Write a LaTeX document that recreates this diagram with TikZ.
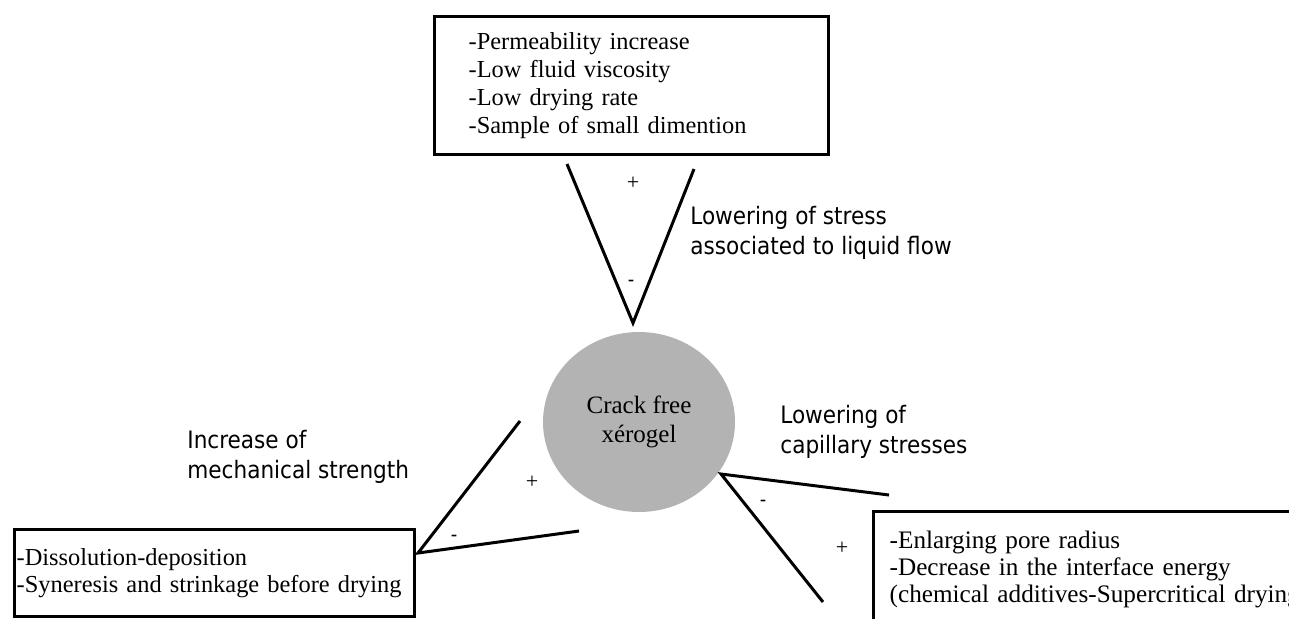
\documentclass[tikz,border=0pt]{standalone}
\usepackage{fontspec}
\setmainfont{Liberation Serif}
\newfontfamily\labelfont{DejaVu Sans Condensed}
\usetikzlibrary{shapes.geometric}
\definecolor{gelgray}{RGB}{179,179,179}

\begin{document}
\begin{tikzpicture}[x=0.5pt, y=-0.5pt,
    factorbox/.style={draw, line width=1.7pt, anchor=north west, align=left,
        inner ysep=0pt, font=\fontsize{12.2}{13.5}\selectfont},
    effect/.style={anchor=west, align=left, inner sep=0pt,
        font=\labelfont\fontsize{12}{15}\selectfont},
    wedge/.style={line width=1.5pt, line join=miter},
    plussign/.style={inner sep=0pt, font=\fontsize{11}{12}\selectfont},
    minussign/.style={inner sep=0pt, font=\labelfont\fontsize{10}{12}\selectfont}]
        \useasboundingbox (0,0) rectangle (1289,618);
        \clip (0,0) rectangle (1289,618);
        % ==== CENTRE ====
        \node[ellipse, fill=gelgray, minimum width=96pt, minimum height=90pt, inner sep=0pt,
            align=center, font=\fontsize{12.5}{14.5}\selectfont] (gel) at (639,422)
            {Crack free\\x\'erogel};
        % ==== BOXES ====
        \node[factorbox, text width=163pt, inner xsep=17pt, minimum height=69pt,
            font=\fontsize{12.2}{14}\selectfont] (perm) at (433,15)
            {-Permeability increase\\-Low fluid viscosity\\-Low drying rate\\-Sample of small dimention};
        \node[factorbox, text width=198pt, inner xsep=1pt, minimum height=43.5pt] (dissol) at (13,528)
            {-Dissolution-deposition\\-Syneresis and strinkage before drying};
        \node[factorbox, text width=220pt, inner xsep=8pt, minimum height=58pt,
            font=\fontsize{12.6}{13.5}\selectfont] (pore) at (872,510)
            {-Enlarging pore radius\\-Decrease in the interface energy\\(chemical additives-Supercritical drying)};
        % ==== TOP WEDGE ====
        \coordinate (tl) at (567,164);
        \coordinate (tv) at (633,323);
        \coordinate (tr) at (694,169);
        \draw[wedge] (tl) -- (tv) -- (tr);
        \node[plussign] (tplus) at (633,183) {+};
        \node[minussign] (tminus) at (631,283) {-};
        \node[effect] (stresslbl) at (690,233) {Lowering of stress\\associated to liquid flow};
        % ==== LEFT WEDGE ====
        \coordinate (lu) at (520,421);
        \coordinate (lv) at (418,553);
        \coordinate (ll) at (579,531);
        \draw[wedge] (lu) -- (lv) -- (ll);
        \node[plussign] (lplus) at (532,482) {+};
        \node[minussign] (lminus) at (454,538) {-};
        \node[effect] (mechlbl) at (187,457) {Increase of\\mechanical strength};
        % ==== RIGHT WEDGE ====
        \coordinate (ru) at (889,495);
        \coordinate (rv) at (721,474);
        \coordinate (rl) at (823,602);
        \draw[wedge] (ru) -- (rv) -- (rl);
        \node[minussign] (rminus) at (763,503) {-};
        \node[plussign] (rplus) at (842,548) {+};
        \node[effect] (caplbl) at (780,432) {Lowering of\\capillary stresses};
\end{tikzpicture}
\end{document}
